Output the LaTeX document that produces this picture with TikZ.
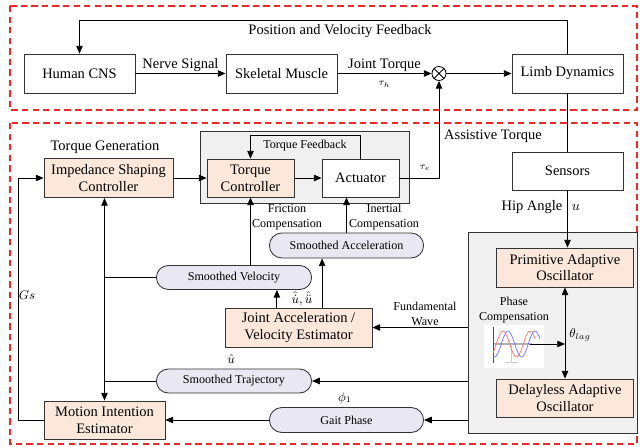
\documentclass[tikz,border=0pt]{standalone}
\usepackage{fontspec}
\setmainfont{Liberation Serif}
\usetikzlibrary{arrows.meta,shapes.misc}

\definecolor{boxorange}{RGB}{252,232,218}
\definecolor{pilllilac}{RGB}{233,231,241}
\definecolor{panelgrey}{RGB}{240,240,240}
\definecolor{dashred}{RGB}{238,40,40}

\newcommand{\mainsz}{\fontsize{10.3}{12}\selectfont}
\newcommand{\lblsz}{\fontsize{8.6}{10.6}\selectfont}
\newcommand{\tinysz}{\fontsize{7}{8}\selectfont}

\tikzset{
  block/.style ={draw=black!80, align=center, font=\mainsz, inner sep=1pt},
  ctrl/.style  ={block, fill=boxorange},
  pill/.style  ={rounded rectangle, draw=black!80, fill=pilllilac, font=\lblsz, inner sep=1pt},
  panel/.style ={draw=black!80, fill=panelgrey, inner sep=0pt},
  frame/.style ={draw=dashred, line width=0.8pt, dash pattern=on 4.5pt off 3pt},
  lbl/.style   ={font=\mainsz, inner sep=1pt},
  slbl/.style  ={font=\lblsz, align=center, inner sep=1pt},
}

\begin{document}
\begin{tikzpicture}[x=0.025cm, y=-0.025cm, line width=0.6pt,
    >={Triangle[length=5.5pt,width=4.6pt]}]
  \useasboundingbox (0,0) rectangle (641,447);

  % the two dashed frames
  \draw[frame] (10,6)   rectangle (637,110);
  \draw[frame] (10,123) rectangle (637,444);

  % human side
  \node[block, minimum width=2.775cm, minimum height=0.975cm] (cns)  at (79.5,73.5)  {Human CNS};
  \node[block, minimum width=2.775cm, minimum height=0.975cm] (sm)   at (281.5,73.5) {Skeletal Muscle};
  \node[draw=black, circle, minimum size=0.35cm, inner sep=0pt] (sum) at (439,73.5) {};
  \draw (sum.north west) -- (sum.south east) (sum.north east) -- (sum.south west);
  \node[block, minimum width=2.775cm, minimum height=0.975cm] (limb) at (567.5,73.5) {Limb Dynamics};

  \draw[->] (cns.east) -- (sm.west)   node [lbl, midway, above] {Nerve Signal};
  \draw[->] (sm.east)  -- (sum.west)  node [lbl, midway, above] {Joint Torque}
                                      node [font=\tinysz, midway, below=2pt] {$\tau_h$};
  \draw[->] (sum.east) -- (limb.west);
  \draw[->] (limb.north) -- ++(0,-33) -| (cns.north);
  \node[lbl] (fblbl) at (340,31) {Position and Velocity Feedback};

  % exoskeleton side: panels first
  \node[panel, minimum width=5.225cm, minimum height=1.8cm]   (drive) at (304.5,167) {};
  \node[panel, minimum width=4.225cm, minimum height=5.025cm] (osc)   at (552.5,332.5) {};

  \node[ctrl, minimum width=3.225cm, minimum height=0.975cm] (isc)  at (108.5,178) {Impedance Shaping\\Controller};
  \node[lbl] (tglbl) at (105,147) {Torque Generation};
  \node[ctrl, minimum width=2.175cm, minimum height=0.95cm]  (tc)   at (250.5,178) {Torque\\Controller};
  \node[block, fill=white, minimum width=1.925cm, minimum height=0.95cm] (act) at (360.5,178) {Actuator};
  \node[block, fill=white, minimum width=2.775cm, minimum height=0.95cm] (sens) at (567.5,171) {Sensors};

  \node[ctrl, minimum width=3.425cm, minimum height=0.975cm] (pao)  at (565,267.5) {Primitive Adaptive\\Oscillator};
  \node[ctrl, minimum width=3.425cm, minimum height=0.95cm]  (dao)  at (565,398)   {Delayless Adaptive\\Oscillator};
  \node[ctrl, minimum width=3.675cm, minimum height=0.975cm] (jave) at (298.5,327.5) {Joint Acceleration /\\Velocity Estimator};
  \node[ctrl, minimum width=3.025cm, minimum height=0.95cm]  (mie)  at (104.5,420) {Motion Intention\\Estimator};

  \node[pill, minimum width=3.925cm, minimum height=0.625cm] (sa)   at (346.5,245.5) {Smoothed Acceleration};
  \node[pill, minimum width=3.95cm,  minimum height=0.6cm]   (sv)   at (234,277.5)   {Smoothed Velocity};
  \node[pill, minimum width=3.95cm,  minimum height=0.6cm]   (st)   at (234,381)     {Smoothed Trajectory};
  \node[pill, minimum width=3.925cm, minimum height=0.625cm] (gait) at (346.5,420)   {Gait Phase};

  % torque loop
  \draw[->] (isc.east) -- (tc.west);
  \draw[->] (tc.east) -- (act.west);
  \draw[->] (act.north) -- ++(0,-23) -| (tc.north);
  \node[slbl] (tflbl) at (305,146) {Torque Feedback};
  \draw[->] (act.east) -| (sum.south);
  \node[font=\tinysz] (taue) at (425,168) {$\tau_e$};
  \node[lbl] (atlbl) at (493,136) {Assistive Torque};

  % sensing
  \draw (limb.south) -- (sens.north);
  \draw[->] (sens.south) -- (sens.south |- pao.north);
  \node[lbl] (hiplbl) at (532,207) {Hip Angle};
  \node[lbl] (ulbl) at (576,207) {$u$};

  % oscillators and phase compensation
  \draw[<->] (pao.south) -- (dao.north);
  \node[font=\lblsz] (lag) at (580,335) {$\theta_{lag}$};
  \node[slbl] (pclbl) at (514,310) {Phase\\Compensation};
  \fill[white] (484,325) rectangle (544,368);
  \draw[gray!60, line width=1.2pt] (493,344) -- (532,344);
  \draw[gray!40, line width=0.3pt] (511,344) -- (511,363) (505,362) -- (518,362);
  \draw[black!70, line width=0.4pt] (493,327) -- (493,363);
  \draw[red!55, line width=0.5pt, domain=493:535, samples=40]
    plot (\x, {344-13*cos(360*(\x-503)/27)});
  \draw[blue!55, line width=0.5pt, domain=493:540, samples=40]
    plot (\x, {344-13*cos(360*(\x-508)/27)});
  \coordinate (pcin) at (530,344);
  \draw[->] (pcin) -- (pcin -| pao.south);

  % signals leaving the oscillator panel
  \draw[->] (osc.west |- jave.east) -- (jave.east);
  \node[slbl] (fwlbl) at (425,314) {Fundamental\\Wave};
  \draw[->] (osc.west |- st.east) -- (st.east);
  \node[font=\lblsz] (uhat) at (231,359) {$\hat{u}$};
  \draw[->] (osc.west |- gait.east) -- (gait.east);
  \node[font=\lblsz] (phi) at (345,398) {$\phi_1$};
  \draw[->] (gait.west) -- (mie.east);

  % estimator outputs
  \draw[->] ([xshift=-0.54cm]jave.north) -- ([xshift=-0.54cm]jave.north |- sv.south);
  \draw[->] ([xshift=0.59cm]jave.north)  -- ([xshift=0.59cm]jave.north |- sa.south);
  \node[font=\lblsz, inner sep=0pt] (dlbl) at (302,299) {$\hat{\dot{u}},\hat{\ddot{u}}$};

  % compensation paths
  \draw[->] (sv.north -| tc.south) -- (tc.south);
  \node[slbl] (frlbl) at (287,217) {Friction\\Compensation};
  \draw[->] (sa.north) -- (sa.north |- act.south);
  \node[slbl] (inlbl) at (384,217) {Inertial\\Compensation};

  % intention estimation
  \draw[<->] (mie.north |- isc.south) -- (mie.north);
  \draw (sv.west) -- (sv.west -| mie.north);
  \draw (st.west) -- (st.west -| mie.north);
  \draw[->] (mie.west) -- ++(-25,0) |- (isc.west);
  \node[font=\lblsz] (gs) at (27,295) {$Gs$};
\end{tikzpicture}
\end{document}
